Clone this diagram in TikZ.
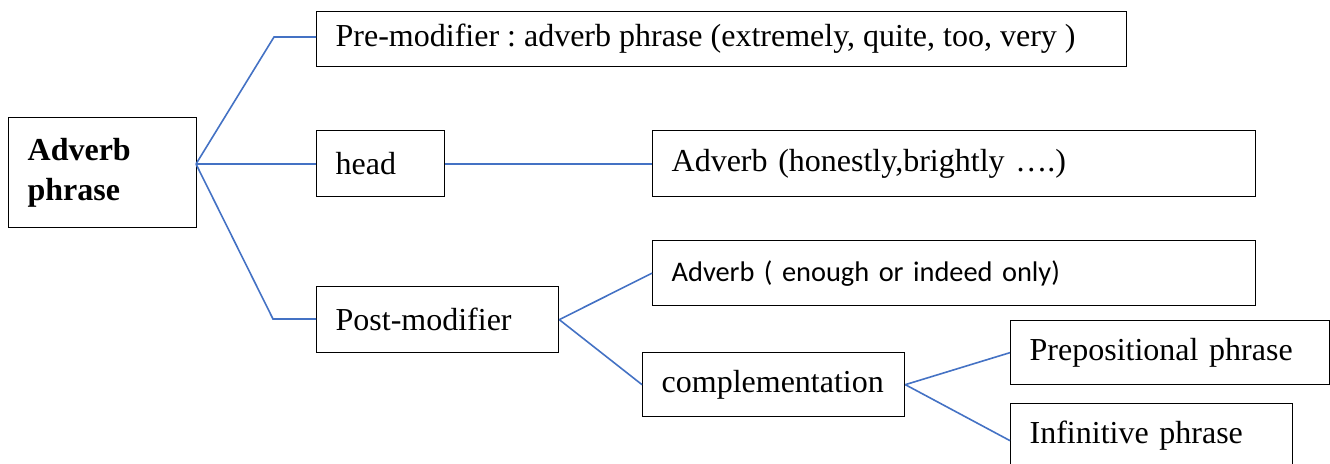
\documentclass[tikz,border=0pt]{standalone}
\usepackage{fontspec}
\setmainfont{Liberation Serif}
\newfontfamily\calibrifont{Carlito}
\definecolor{linkblue}{RGB}{68,114,196}
\frenchspacing
\begin{document}
\begin{tikzpicture}[x=1pt,y=-1pt,
  box/.style={draw=black,line width=1.3pt,rectangle,inner xsep=19pt,inner ysep=0pt,
    align=left,anchor=north west,font=\fontsize{32}{40}\selectfont},
  link/.style={draw=linkblue,line width=1.6pt}]
\useasboundingbox (0,0) rectangle (1330,463);
\clip (0,0) rectangle (1330,463);
\node[box,minimum width=188pt,minimum height=110pt,text width=150pt,
  font=\bfseries\fontsize{32}{40}\selectfont] (A) at (8,117) {Adverb\\phrase};
\node[box,minimum width=810pt,minimum height=55pt,text width=772pt] (pre) at (316,11)
  {\spaceskip=8pt\relax Pre-modifier : adverb phrase (extremely, quite, too, very )};
\node[box,minimum width=128pt,minimum height=66pt,text width=90pt] (head) at (316,130) {head};
\node[box,minimum width=603pt,minimum height=66pt,text width=565pt] (honest) at (652,130)
  {Adverb (honestly,brightly \dots.)};
\node[box,minimum width=603pt,minimum height=65pt,text width=565pt,
  font=\calibrifont\fontsize{28.4}{34}\selectfont] (enough) at (652,240)
  {Adverb ( enough or indeed only)};
\node[box,minimum width=242pt,minimum height=66pt,text width=204pt] (post) at (316,286) {Post-modifier};
\node[box,minimum width=262pt,minimum height=64pt,text width=224pt] (comp) at (642,352) {complementation};
\node[box,minimum width=319pt,minimum height=64pt,text width=281pt] (prep) at (1010,320) {Prepositional phrase};
\node[box,minimum width=282pt,minimum height=74pt,text width=244pt,text depth=16pt] (inf) at (1010,403) {Infinitive phrase};
\coordinate (J) at (196,164);
\coordinate (B1) at (274,37);
\coordinate (B3) at (273,319);
\draw[link] (J) -- (B1) -- (B1 -| pre.west);
\draw[link] (J) -- (J -| head.west);
\draw[link] (J) -- (B3) -- (B3 -| post.west);
\draw[link] (head.east |- J) -- (honest.west |- J);
\draw[link] (post.east) -- (enough.west);
\draw[link] (post.east) -- (comp.west);
\draw[link] (comp.east) -- (prep.west);
\draw[link] (comp.east) -- (inf.west);
\end{tikzpicture}
\end{document}
